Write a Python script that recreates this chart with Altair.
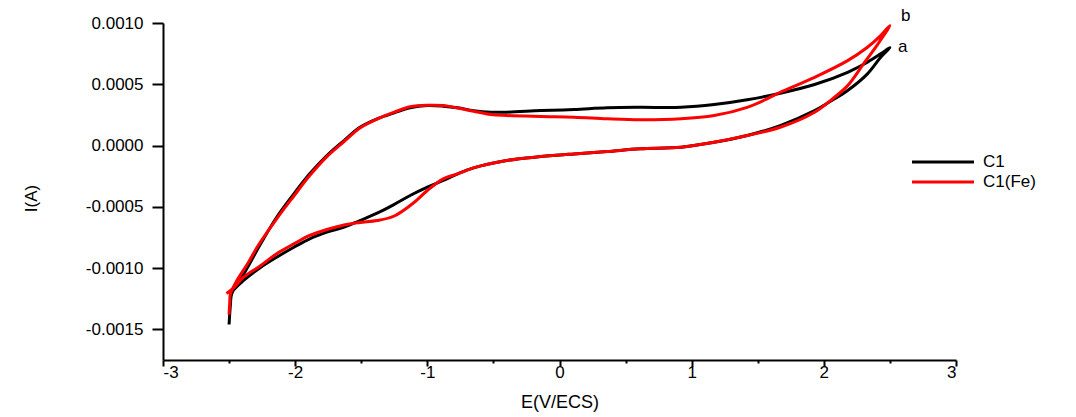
import altair as alt
import pandas as pd

# ---- data (E in V/ECS, I in A) ----
series_names = ["C1", "C1(Fe)"]
series_colors = ["#000000", "#ff0000"]

E_c1 = [-2.50, -2.49, -2.48, -2.39, -2.26, -2.14, -2.01, -1.89, -1.76, -1.63,
        -1.51, -1.38, -1.25, -1.13, -1.00, -0.88, -0.77, -0.65, -0.52, -0.40,
        -0.14, 0.11, 0.36, 0.61, 0.92, 1.17, 1.42, 1.67, 1.93, 2.18,
        2.33, 2.43, 2.50,
        2.43, 2.33, 2.18, 2.05, 1.93, 1.67, 1.42, 1.17, 0.92, 0.61,
        0.36, 0.11, -0.14, -0.40, -0.65, -0.77, -0.88, -1.00, -1.13, -1.25,
        -1.38, -1.51, -1.63, -1.76, -1.89, -2.01, -2.14, -2.26, -2.39, -2.47]
I_c1 = [-0.00146, -0.00130, -0.00121, -0.00105, -0.00080, -0.000585, -0.000394, -0.000231, -0.000082, 0.000041,
        0.000149, 0.000218, 0.000267, 0.000308, 0.000326, 0.000321, 0.000308, 0.000285, 0.000272, 0.000272,
        0.000285, 0.000294, 0.000308, 0.000312, 0.000312, 0.000334, 0.000373, 0.000427, 0.000498, 0.000598,
        0.000680, 0.000748, 0.000799,
        0.000720, 0.000585, 0.000449, 0.000361, 0.000285, 0.000163, 0.000082, 0.000027, -0.000014, -0.000027,
        -0.000049, -0.000068, -0.000090, -0.000122, -0.000182, -0.000231, -0.000285, -0.000340, -0.000408, -0.000480,
        -0.000552, -0.000612, -0.000666, -0.000707, -0.000761, -0.000830, -0.000911, -0.000993, -0.001101, -0.001183]

E_fe = [-2.50, -2.495, -2.49, -2.44, -2.36, -2.28, -2.14, -2.01, -1.89, -1.76,
        -1.63, -1.51, -1.38, -1.25, -1.13, -1.00, -0.88, -0.77, -0.65, -0.52,
        -0.40, -0.14, 0.11, 0.36, 0.61, 0.92, 1.17, 1.42, 1.57, 1.67,
        1.93, 2.18, 2.33, 2.43, 2.50,
        2.41, 2.30, 2.18, 2.05, 1.93, 1.67, 1.42, 1.17, 0.92, 0.61,
        0.36, 0.11, -0.14, -0.40, -0.65, -0.77, -0.88, -1.00, -1.11, -1.25,
        -1.38, -1.51, -1.63, -1.76, -1.89, -2.01, -2.14, -2.26, -2.39, -2.47, -2.52]
I_fe = [-0.00138, -0.00128, -0.00121, -0.00110, -0.000965, -0.000816, -0.000598, -0.000412, -0.000245, -0.000090,
        0.000033, 0.000143, 0.000216, 0.000272, 0.000316, 0.000329, 0.000326, 0.000306, 0.000280, 0.000253,
        0.000245, 0.000237, 0.000231, 0.000218, 0.000210, 0.000218, 0.000245, 0.000312, 0.000381, 0.000435,
        0.000557, 0.000693, 0.000802, 0.000897, 0.000979,
        0.000830, 0.000666, 0.000489, 0.000367, 0.000272, 0.000149, 0.000082, 0.000027, -0.000014, -0.000027,
        -0.000049, -0.000068, -0.000090, -0.000122, -0.000182, -0.000231, -0.000272, -0.000367, -0.000473, -0.000575,
        -0.000612, -0.000628, -0.000648, -0.000685, -0.000734, -0.000802, -0.000883, -0.000979, -0.001074, -0.001166, -0.001207]

x_tick_values = [-3, -2.5, -2, -1.5, -1, -0.5, 0, 0.5, 1, 1.5, 2, 2.5, 3]
y_tick_values = [-0.0015, -0.00125, -0.001, -0.00075, -0.0005, -0.00025, 0.0,
                 0.00025, 0.0005, 0.00075, 0.001]
annot_labels = ["a", "b"]

assert len(E_c1) == len(I_c1) and len(E_fe) == len(I_fe)

rows = []
for name, Es, Is in ((series_names[0], E_c1, I_c1), (series_names[1], E_fe, I_fe)):
    for k, (e, i) in enumerate(zip(Es, Is)):
        rows.append({"E": e, "I": i, "series": name, "idx": k})
df = pd.DataFrame(rows)

# tips of the loops for the "a"/"b" labels
imax_c1 = I_c1.index(max(I_c1))
imax_fe = I_fe.index(max(I_fe))
df_a = pd.DataFrame({"E": [E_c1[imax_c1]], "I": [I_c1[imax_c1]], "t": [annot_labels[0]]})
df_b = pd.DataFrame({"E": [E_fe[imax_fe]], "I": [I_fe[imax_fe]], "t": [annot_labels[1]]})

FONT = "Liberation Sans"

x_scale = alt.Scale(domain=[-3, 3], nice=False, zero=False)
y_scale = alt.Scale(domain=[-0.00175, 0.001], nice=False, zero=False)

x_axis = alt.Axis(
    values=x_tick_values,
    labelExpr="abs(datum.value - round(datum.value)) < 1e-6 ? replace(format(datum.value, 'd'), '−', '-') : ''",
    tickSize={"condition": {"test": "abs(datum.value - round(datum.value)) < 1e-6", "value": 6}, "value": 3},
    labelPadding=-2,
    labelFontSize=17,
    title="E(V/ECS)",
    titleFontSize=18,
    titleY=47,
    titleBaseline="alphabetic",
)
y_axis = alt.Axis(
    values=y_tick_values,
    labelExpr="abs(datum.value*2000 - round(datum.value*2000)) < 1e-4 ? replace(format(datum.value, '.4f'), '−', '-') : ''",
    tickSize={"condition": {"test": "abs(datum.value*2000 - round(datum.value*2000)) < 1e-4", "value": 11}, "value": 6},
    labelPadding=9,
    labelFontSize=17,
    title="I(A)",
    titleFontSize=17,
    titleAngle=270,
    titleX=-127,
    titleY=175,
    titleBaseline="alphabetic",
    titleAlign="center",
)

lines = alt.Chart(df).mark_line(strokeWidth=3, strokeJoin="round", interpolate="catmull-rom").encode(
    x=alt.X("E:Q", scale=x_scale, axis=x_axis),
    y=alt.Y("I:Q", scale=y_scale, axis=y_axis),
    color=alt.Color(
        "series:N",
        scale=alt.Scale(domain=series_names, range=series_colors),
        legend=alt.Legend(
            title=None, orient="none", legendX=768, legendY=127,
            symbolType="M-3,0L3,0", symbolSize=427, symbolStrokeWidth=3,
            labelFont=FONT, labelFontSize=17, labelColor="black", labelOffset=28,
            rowPadding=0, padding=0,
        ),
    ),
    order=alt.Order("idx:Q"),
)

text_a = alt.Chart(df_a).mark_text(
    align="left", baseline="middle", dx=8, dy=-1, font=FONT, fontSize=17, color="black"
).encode(x=alt.X("E:Q", scale=x_scale), y=alt.Y("I:Q", scale=y_scale), text="t:N")

text_b = alt.Chart(df_b).mark_text(
    align="left", baseline="middle", dx=11, dy=-10, font=FONT, fontSize=17, color="black"
).encode(x=alt.X("E:Q", scale=x_scale), y=alt.Y("I:Q", scale=y_scale), text="t:N")

chart = alt.layer(lines, text_a, text_b).properties(
    width=793,
    height=337,
    autosize=alt.AutoSizeParams(type="none"),
    padding={"left": 163, "top": 23, "right": 120, "bottom": 57},
    background="white",
).configure_view(stroke=None).configure_axis(
    grid=False,
    domainColor="black",
    domainWidth=2,
    tickColor="black",
    tickWidth=2,
    labelFont=FONT,
    labelFontSize=16,
    labelColor="black",
    titleFont=FONT,
    titleFontWeight="normal",
    titleColor="black",
)

chart.save("out.html", embed_options={"renderer": "svg", "actions": False})
